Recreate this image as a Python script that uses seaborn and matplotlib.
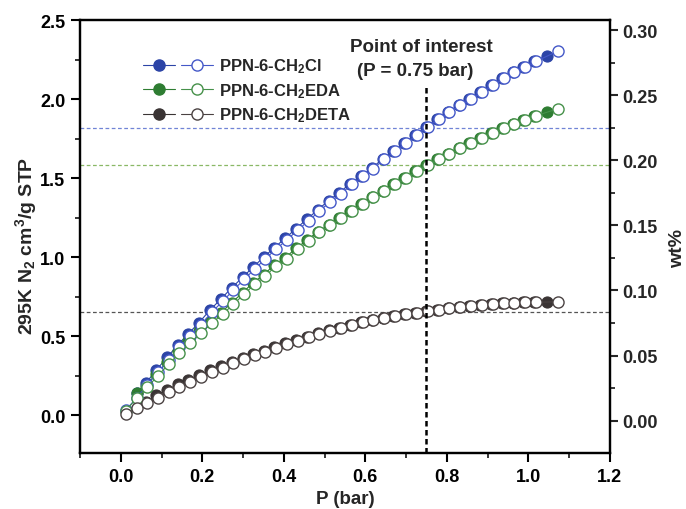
import matplotlib
matplotlib.use("Agg")
import matplotlib.pyplot as plt
from matplotlib.lines import Line2D
from matplotlib.legend_handler import HandlerTuple
import seaborn as sns
import pandas as pd

# ---------------- data ----------------
series_names = ["PPN-6-CH$_2$Cl", "PPN-6-CH$_2$EDA", "PPN-6-CH$_2$DETA"]

p_des = [0.012, 0.039, 0.065, 0.091, 0.118, 0.144, 0.170, 0.196, 0.223, 0.250,
         0.276, 0.303, 0.329, 0.355, 0.381, 0.408, 0.434, 0.461, 0.487, 0.514,
         0.540, 0.567, 0.594, 0.620, 0.647, 0.673, 0.700, 0.727, 0.753, 0.780,
         0.806, 0.833, 0.859, 0.886, 0.913, 0.940, 0.966, 0.993, 1.020, 1.074]

cl_des = [0.03, 0.11, 0.19, 0.27, 0.35, 0.43, 0.50, 0.57, 0.65, 0.72,
          0.79, 0.86, 0.925, 0.99, 1.05, 1.11, 1.17, 1.23, 1.29, 1.35,
          1.40, 1.46, 1.51, 1.56, 1.62, 1.67, 1.72, 1.775, 1.825, 1.875,
          1.92, 1.96, 2.00, 2.045, 2.09, 2.13, 2.17, 2.205, 2.24, 2.305]

eda_des = [0.027, 0.106, 0.175, 0.249, 0.323, 0.392, 0.456, 0.519, 0.582, 0.639,
           0.70, 0.766, 0.829, 0.88, 0.945, 0.99, 1.05, 1.103, 1.156, 1.20,
           1.245, 1.293, 1.335, 1.38, 1.42, 1.46, 1.50, 1.545, 1.584, 1.62,
           1.655, 1.69, 1.72, 1.755, 1.785, 1.815, 1.845, 1.87, 1.895, 1.94]

deta_des = [0.006, 0.042, 0.075, 0.11, 0.145, 0.18, 0.21, 0.238, 0.27, 0.297,
            0.327, 0.354, 0.38, 0.40, 0.424, 0.449, 0.47, 0.492, 0.515, 0.535,
            0.553, 0.57, 0.586, 0.60, 0.615, 0.628, 0.638, 0.648, 0.656, 0.665,
            0.677, 0.687, 0.692, 0.698, 0.703, 0.707, 0.709, 0.713, 0.714, 0.717]

p_ads = [0.040, 0.061, 0.087, 0.114, 0.140, 0.166, 0.192, 0.219, 0.246, 0.272,
         0.299, 0.325, 0.351, 0.377, 0.404, 0.430, 0.457, 0.483, 0.510, 0.536,
         0.563, 0.590, 0.616, 0.643, 0.669, 0.696, 0.723, 0.749, 0.776, 0.802,
         0.829, 0.855, 0.882, 0.909, 0.936, 0.962, 0.987, 1.014, 1.046]

cl_ads = [0.14, 0.20, 0.285, 0.365, 0.445, 0.515, 0.585, 0.665, 0.735, 0.805,
          0.872, 0.937, 1.0, 1.06, 1.12, 1.18, 1.24, 1.298, 1.357, 1.407,
          1.465, 1.515, 1.563, 1.622, 1.67, 1.72, 1.775, 1.825, 1.875, 1.92,
          1.96, 2.00, 2.045, 2.09, 2.13, 2.17, 2.205, 2.24, 2.274]

eda_ads = [0.14, 0.185, 0.26, 0.335, 0.403, 0.467, 0.53, 0.592, 0.648, 0.71,
           0.775, 0.838, 0.888, 0.952, 0.997, 1.055, 1.107, 1.16, 1.203, 1.247,
           1.294, 1.336, 1.38, 1.42, 1.46, 1.50, 1.545, 1.584, 1.62, 1.655,
           1.69, 1.72, 1.755, 1.785, 1.815, 1.845, 1.868, 1.893, 1.92]

p_ads_deta = p_ads[1:]
deta_ads = [0.085, 0.125, 0.16, 0.195, 0.225, 0.252, 0.283, 0.31, 0.338, 0.364,
            0.388, 0.408, 0.431, 0.455, 0.475, 0.496, 0.518, 0.537, 0.554, 0.571,
            0.586, 0.60, 0.615, 0.628, 0.638, 0.648, 0.656, 0.665, 0.677, 0.687,
            0.692, 0.698, 0.703, 0.707, 0.709, 0.713, 0.714, 0.716]

ref_levels = [1.814, 1.584, 0.654]
p_interest = 0.75

colors = ["#2c44a6", "#2e7d32", "#3a3434"]
edge_open = ["#4458c8", "#46914a", "#4a4242"]
ref_colors = ["#7084d6", "#8ab866", "#555555"]

# ---------------- plot ----------------
sns.set_theme(style="ticks")
plt.rcParams["font.family"] = ["Liberation Sans", "DejaVu Sans"]
plt.rcParams["font.weight"] = "bold"
plt.rcParams["mathtext.fontset"] = "custom"
plt.rcParams["mathtext.rm"] = "Liberation Sans:bold"
plt.rcParams["mathtext.bf"] = "Liberation Sans:bold"
plt.rcParams["mathtext.it"] = "Liberation Sans:bold"
plt.rcParams["mathtext.default"] = "bf"

fig = plt.figure(figsize=(6.86, 5.10), dpi=100)
ax = fig.add_axes([0.1166, 0.1098, 0.889 - 0.1166, 0.9588 - 0.1098])

ads_sets = [(p_ads, cl_ads), (p_ads, eda_ads), (p_ads_deta, deta_ads)]
des_sets = [cl_des, eda_des, deta_des]

ms = 8.0
for i in range(3):
    pa, ya = ads_sets[i]
    df_a = pd.DataFrame({"P": pa, "V": ya})
    sns.lineplot(data=df_a, x="P", y="V", ax=ax, sort=False, estimator=None,
                 color=colors[i], lw=0.8, marker="o", markersize=ms,
                 markerfacecolor=colors[i], markeredgecolor=colors[i],
                 markeredgewidth=0.8, zorder=2 + i)
for i in range(3):
    df_d = pd.DataFrame({"P": p_des, "V": des_sets[i]})
    sns.lineplot(data=df_d, x="P", y="V", ax=ax, sort=False, estimator=None,
                 color=edge_open[i], lw=0.8, marker="o", markersize=ms,
                 markerfacecolor="white", markeredgecolor=edge_open[i],
                 markeredgewidth=1.0, zorder=6 + i)

for lvl, c in zip(ref_levels, ref_colors):
    ax.axhline(lvl, color=c, lw=0.9, ls=(0, (3, 2)), zorder=1)

ax.plot([p_interest, p_interest], [-0.24, 2.09], color="black", lw=1.8,
        ls=(0, (2.2, 1.4)), zorder=10)
ax.text(0.738, 2.335, "Point of interest", ha="center", va="center",
        fontsize=13.5, fontweight="bold")
ax.text(0.722, 2.18, "(P = 0.75 bar)", ha="center", va="center",
        fontsize=13.5, fontweight="bold")

ax.set_xlim(-0.1, 1.2)
ax.set_ylim(-0.24, 2.5)
xt = [0.0, 0.2, 0.4, 0.6, 0.8, 1.0, 1.2]
yt = [0.0, 0.5, 1.0, 1.5, 2.0, 2.5]
ax.set_xticks(xt)
ax.set_xticks([-0.1, 0.1, 0.3, 0.5, 0.7, 0.9, 1.1], minor=True)
ax.set_yticks(yt)
ax.set_yticks([0.25, 0.75, 1.25, 1.75, 2.25], minor=True)
ax.set_xticklabels([f"{v:.1f}" for v in xt])
ax.set_yticklabels([f"{v:.1f}" for v in yt])
ax.set_xlabel("P (bar)", fontsize=13.5, fontweight="bold", labelpad=4)
ax.set_ylabel("")
ax.tick_params(axis="both", which="major", direction="out", length=6.5, width=1.5,
               labelsize=13, colors="black", pad=4)
ax.tick_params(axis="both", which="minor", direction="out", length=3.5, width=1.3)
for lab in ax.get_xticklabels() + ax.get_yticklabels():
    lab.set_fontweight("bold")
for s in ax.spines.values():
    s.set_linewidth(1.6)
    s.set_color("black")
    s.set_visible(True)

fig.text(26 / 686, 1 - 246 / 510, "295K N$_2$ cm$^3$/g STP", rotation=90,
         ha="center", va="center", fontsize=14, fontweight="bold")

ax2 = ax.twinx()
ax2.set_ylim(-0.0248, 0.3077)
rt = [0.00, 0.05, 0.10, 0.15, 0.20, 0.25, 0.30]
ax2.set_yticks(rt)
ax2.set_yticks([0.025, 0.075, 0.125, 0.175, 0.225, 0.275], minor=True)
ax2.set_yticklabels([f"{v:.2f}" for v in rt])
ax2.tick_params(axis="y", which="major", direction="out", length=6, width=1.5,
                labelsize=13, pad=3)
ax2.tick_params(axis="y", which="minor", direction="out", length=3.5, width=1.3)
for lab in ax2.get_yticklabels():
    lab.set_fontweight("bold")
for s in ax2.spines.values():
    s.set_linewidth(1.6)
    s.set_color("black")

fig.text(678 / 686, 1 - 249 / 510, "wt%", rotation=90, ha="center", va="center",
         fontsize=14, fontweight="bold")

# legend
handles = []
for i in range(3):
    h_f = Line2D([], [], color=colors[i], lw=0.8, marker="o", markersize=ms,
                 markerfacecolor=colors[i], markeredgecolor=colors[i])
    h_o = Line2D([], [], color=edge_open[i], lw=0.8, marker="o", markersize=ms,
                 markerfacecolor="white", markeredgecolor=edge_open[i])
    handles.append((h_f, h_o))
leg = ax.legend(handles, series_names, handler_map={tuple: HandlerTuple(ndivide=None, pad=0.35)},
                loc="upper left", bbox_to_anchor=(0.09, 0.95), frameon=False,
                handlelength=4.2, handletextpad=0.35, labelspacing=0.35,
                prop={"weight": "bold", "size": 12})

fig.savefig("out.png", dpi=100)
